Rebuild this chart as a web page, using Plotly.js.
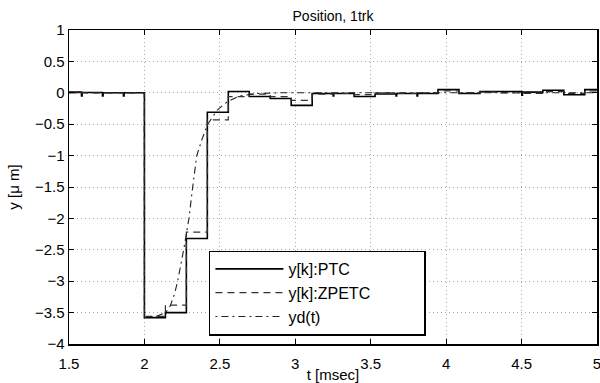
<!DOCTYPE html>
<html>
<head>
<meta charset="utf-8">
<script src="https://cdn.plot.ly/plotly-3.0.1.min.js"></script>
<style>html,body{margin:0;padding:0;background:#fff;}#chart{width:600px;height:383px;}</style>
</head>
<body>
<div id="chart"></div>
<script>
// PTC (solid, stair-step): step times [msec] and held values [um]
const ptcT = [1.5, 1.583, 1.587, 1.722, 1.726, 1.861, 1.865, 2.0, 2.139, 2.278, 2.417, 2.556, 2.695, 2.834, 2.973, 3.112, 3.251, 3.255, 3.39, 3.529, 3.668, 3.672, 3.807, 3.811, 3.946, 4.085, 4.224, 4.363, 4.502, 4.506, 4.641, 4.78, 4.919, 5.0];
const ptcY = [0.01, -0.05, 0.005, -0.05, 0.0, -0.05, 0.0, -3.58, -3.50, -2.32, -0.31, 0.02, -0.06, -0.09, -0.20, -0.01, -0.05, -0.01, -0.06, -0.02, -0.05, -0.01, -0.05, -0.01, 0.05, -0.01, 0.02, 0.02, -0.04, 0.01, 0.04, -0.03, 0.05, 0.05];

// ZPETC (dashed, stair-step)
const zpT = [1.5, 2.0, 2.139, 2.278, 2.417, 2.556, 2.695, 2.834, 2.973, 3.112, 3.251, 3.39, 3.529, 3.668, 3.807, 3.946, 4.085, 4.224, 4.363, 4.502, 4.641, 4.78, 4.919, 5.0];
const zpY = [0.0, -3.56, -3.38, -2.22, -0.43, -0.06, -0.02, -0.06, -0.12, -0.02, -0.01, -0.03, 0.0, -0.01, 0.0, 0.03, 0.0, 0.01, 0.0, -0.01, 0.02, -0.01, 0.03, 0.03];

// yd(t) desired trajectory (dash-dot)
const ydT = [1.5, 1.999, 2.0, 2.08, 2.14, 2.17, 2.2, 2.22, 2.26, 2.295, 2.32, 2.347, 2.38, 2.42, 2.48, 2.545, 2.63, 2.75, 2.9, 5.0];
const ydY = [0.0, 0.0, -3.58, -3.56, -3.5, -3.4, -3.2, -3.0, -2.5, -2.0, -1.5, -1.0, -0.75, -0.5, -0.28, -0.15, -0.05, -0.01, 0.0, 0.0];

const xTicks = [1.5, 2, 2.5, 3, 3.5, 4, 4.5, 5];
const yTicks = [1, 0.5, 0, -0.5, -1, -1.5, -2, -2.5, -3, -3.5, -4];
const legendNames = ['y[k]:PTC', 'y[k]:ZPETC', 'yd(t)'];

const FONT = 'Liberation Sans, Arial, Helvetica, sans-serif';
const PAD = '\u00a0'.repeat(11); // widens the legend box like the reference

const traces = [
  {x: ptcT, y: ptcY, name: legendNames[0], mode: 'lines', line: {shape: 'hv', color: '#000', width: 1.6}},
  {x: zpT, y: zpY, name: legendNames[1] + PAD, mode: 'lines', line: {shape: 'hv', color: '#333', width: 1.2, dash: '7px,5px'}},
  {x: ydT, y: ydY, name: legendNames[2], mode: 'lines', line: {shape: 'linear', color: '#222', width: 1.1, dash: '2px,4px,7px,4px'}}
];

const axisCommon = {
  showline: true, linecolor: '#000', linewidth: 1.5, mirror: 'ticks',
  ticks: 'inside', ticklen: 5, tickcolor: '#000', tickwidth: 1,
  showgrid: true, gridcolor: '#aaa', gridwidth: 1, griddash: '1px,3px',
  zeroline: false, tickfont: {family: FONT, size: 15, color: '#000'},
  ticklabeloverflow: 'allow'
};

const layout = {
  width: 600, height: 383,
  margin: {l: 69, r: 3, t: 30, b: 39},
  paper_bgcolor: '#fff', plot_bgcolor: '#fff',
  font: {family: FONT, color: '#000'},
  title: {text: 'Position, 1trk', font: {family: FONT, size: 14, color: '#000'}, x: 0.5, xref: 'paper', y: 1 - 16/383, yref: 'container', yanchor: 'middle'},
  xaxis: Object.assign({}, axisCommon, {
    range: [1.5, 5], tickvals: xTicks, ticktext: xTicks.map(String),
    ticklabelstandoff: 5,
    title: {text: 't [msec]', font: {family: FONT, size: 15, color: '#000'}, standoff: 0}
  }),
  yaxis: Object.assign({}, axisCommon, {
    range: [-4, 1], tickvals: yTicks, ticktext: yTicks.map(v => v < 0 ? '\u2212' + Math.abs(v) : String(v)),
    title: {text: 'y [\u03bc m]', font: {family: FONT, size: 15, color: '#000'}, standoff: 11}
  }),
  showlegend: true,
  legend: {
    x: 0.265, y: 0.027, xanchor: 'left', yanchor: 'bottom',
    bgcolor: '#fff', bordercolor: '#000', borderwidth: 1.5,
    font: {family: FONT, size: 16, color: '#000'},
    itemwidth: 68, tracegroupgap: 0
  }
};

Plotly.newPlot('chart', traces, layout, {displayModeBar: false, staticPlot: true});
</script>
</body>
</html>
